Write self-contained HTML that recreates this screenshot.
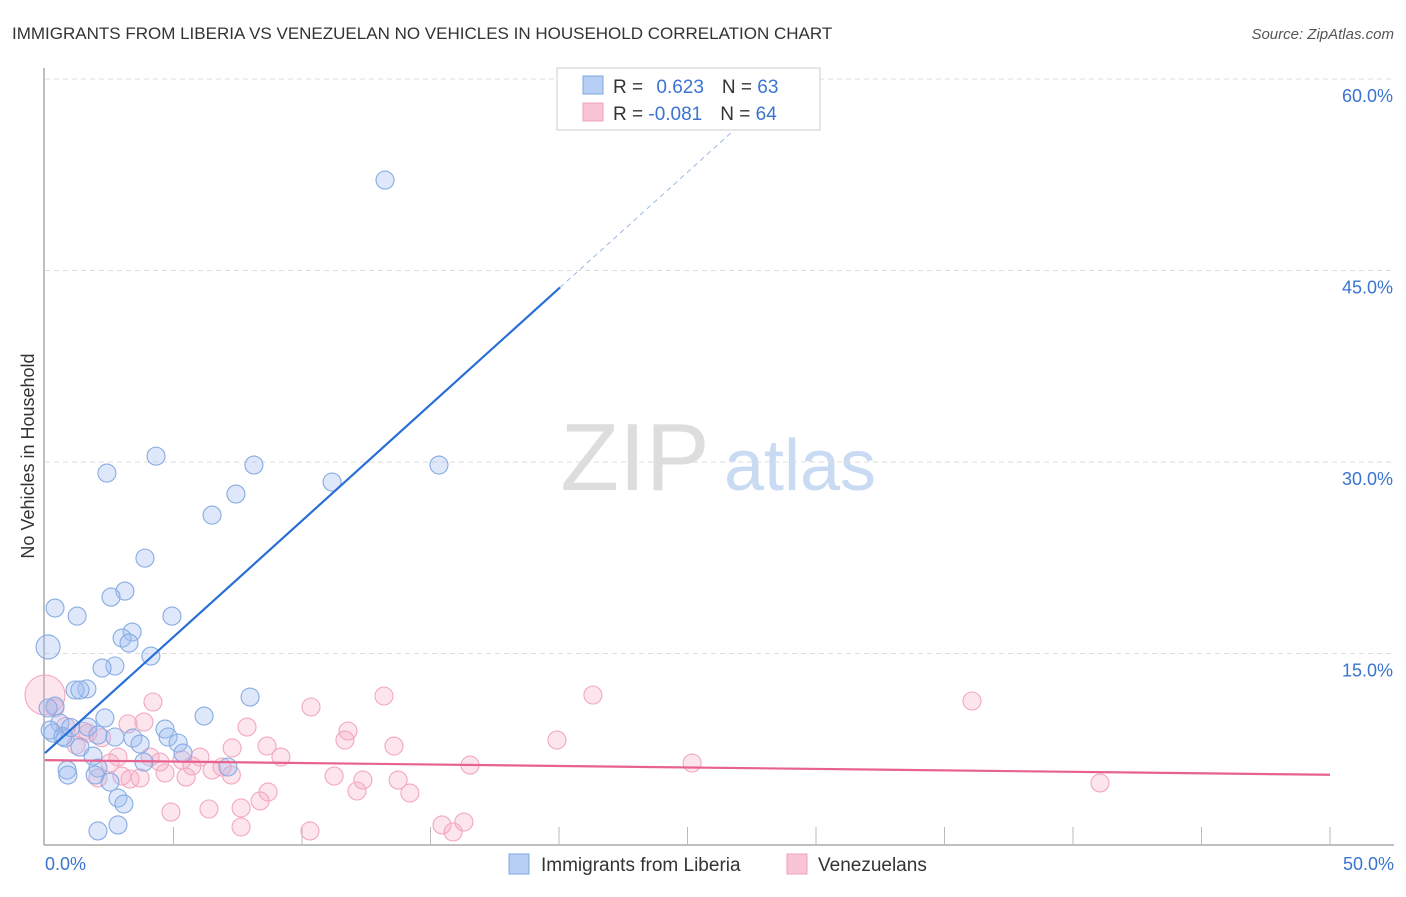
<!DOCTYPE html>
<html><head><meta charset="utf-8"><style>
body{margin:0;background:#fff;font-family:"Liberation Sans",sans-serif}
svg text{font-family:"Liberation Sans",sans-serif}
</style></head><body>
<svg id="c" width="1406" height="892" xmlns="http://www.w3.org/2000/svg">
<text x="12" y="39" font-size="17" fill="#333">IMMIGRANTS FROM LIBERIA VS VENEZUELAN NO VEHICLES IN HOUSEHOLD CORRELATION CHART</text>
<text x="1394" y="39" font-size="15" fill="#555" font-style="italic" text-anchor="end">Source: ZipAtlas.com</text>
<text x="34" y="456" font-size="18" fill="#333" text-anchor="middle" transform="rotate(-90 34 456)">No Vehicles in Household</text>
<g><text x="635" y="490" font-size="96" fill="#ddd" font-family="Liberation Serif" text-anchor="middle">ZIP</text><text x="800" y="490" font-size="72" fill="#c9daf3" text-anchor="middle">atlas</text></g>
<g id="grid"></g><g id="pts"></g><g id="lines"></g>
<g>
<rect x="557" y="68" width="263" height="62" fill="#fff" stroke="#ccc"/>
<rect x="583" y="76" width="20" height="18" fill="#b7cff5" stroke="#7fa6e0"/>
<rect x="583" y="103" width="20" height="18" fill="#f9c5d6" stroke="#f0a0bd"/>
<text x="613" y="93" font-size="19" fill="#333">R = <tspan fill="#3a74d0" dx="8">0.623</tspan><tspan dx="18" fill="#333">N = </tspan><tspan fill="#3a74d0">63</tspan></text>
<text x="613" y="120" font-size="19" fill="#333">R = <tspan fill="#3a74d0">-0.081</tspan><tspan dx="18" fill="#333">N = </tspan><tspan fill="#3a74d0">64</tspan></text>
</g>
<g>
<rect x="509" y="854" width="20" height="20" fill="#b7cff5" stroke="#7fa6e0"/>
<text x="541" y="871" font-size="19" fill="#333">Immigrants from Liberia</text>
<rect x="787" y="854" width="20" height="20" fill="#f9c5d6" stroke="#f0a0bd"/>
<text x="818" y="871" font-size="19" fill="#333">Venezuelans</text>
</g>
</svg>
<script>
const yTicks=[15,30,45,60];
const xTickLabels=["0.0%","50.0%"];
const blueX=[13.23,4.32,8.13,15.33,2.41,11.17,7.43,6.50,3.89,3.11,2.57,0.39,1.25,4.94,3.39,3.00,3.27,0.12,4.12,2.72,2.22,1.63,1.17,1.36,7.98,0.39,0.12,6.19,2.33,0.58,4.67,1.67,0.31,2.06,2.72,4.79,3.42,0.78,5.18,3.70,1.36,5.37,1.87,3.85,7.12,0.86,2.06,1.95,0.89,2.53,2.84,3.07,2.84,2.06,0.2,0.7,1.0];
const blueY=[52.08,30.46,29.76,29.76,29.13,28.43,27.49,25.84,22.47,19.89,19.42,18.56,17.93,17.93,16.68,16.21,15.82,15.51,14.80,14.02,13.86,12.22,12.14,12.14,11.59,10.88,10.73,10.10,9.95,9.55,9.08,9.24,8.77,8.61,8.46,8.46,8.38,8.38,7.99,7.91,7.67,7.20,6.97,6.50,6.11,5.87,6.03,5.48,5.48,4.93,3.68,3.21,1.57,1.10,9.0,8.5,9.2];
const pinkX=[0,21.32,13.19,36.07,4.20,10.35,0.39,7.86,3.85,3.23,11.79,1.67,11.67,19.92,13.58,8.64,7.28,1.21,2.84,6.03,9.18,4.09,5.33,4.47,2.53,16.54,25.18,5.72,6.89,6.50,4.67,7.25,11.25,2.99,5.49,2.06,3.31,3.70,12.37,13.74,41.05,12.14,8.68,14.20,8.37,7.63,6.38,4.90,7.63,10.31,15.45,16.30,15.88,0.8,1.5,2.2];
const pinkY=[11.75,11.75,11.67,11.28,11.20,10.81,10.73,9.24,9.63,9.48,8.93,8.77,8.22,8.22,7.75,7.75,7.60,7.83,6.89,6.89,6.89,6.89,6.66,6.50,6.42,6.26,6.42,6.19,6.11,5.87,5.64,5.48,5.40,5.40,5.32,5.25,5.17,5.25,5.09,5.09,4.86,4.23,4.15,4.07,3.45,2.90,2.82,2.58,1.41,1.10,1.57,1.80,1.02,9.3,8.9,8.4];
const blueBig=[17], pinkBig=[0];
const blueFit=[7.2,1.82], pinkFit=[6.65,-0.023];
const NS="http://www.w3.org/2000/svg";
const X=v=>45+v*25.7, Y=v=>845-v*12.767;
function mk(t,a,p){const e=document.createElementNS(NS,t);for(const k in a)e.setAttribute(k,a[k]);p.appendChild(e);return e;}
const g=document.getElementById('grid');
yTicks.forEach(t=>{
 const l=mk('line',{x1:45,x2:1394,y1:Y(t),y2:Y(t),stroke:'#ddd','stroke-dasharray':'5,4'},g);
 
 
 const tx=mk('text',{x:1393,y:Y(t)+23,'font-size':18,fill:'#3a74d0','text-anchor':'end'},g);tx.textContent=t.toFixed(1)+'%';
 
 
});
const ax=mk('line',{x1:44,x2:1394,y1:845,y2:845,stroke:'#aaa','stroke-width':1.5},g);


const ay=mk('line',{x1:44,x2:44,y1:68,y2:845,stroke:'#aaa','stroke-width':1.5},g);


for(let i=1;i<=10;i++){const t=mk('line',{x1:X(i*5),x2:X(i*5),y1:827,y2:845,stroke:'#bbb'},g);
 
 }
[[45,'start',0],[1394,'end',1]].forEach(([x,a,i])=>{const t=mk('text',{x:x,y:870,'font-size':18,fill:'#3a74d0','text-anchor':a},g);t.textContent=xTickLabels[i];
 
 });
const p=document.getElementById('pts');
pinkX.forEach((v,i)=>{const c=mk('circle',{cx:X(v),cy:Y(pinkY[i]),r:pinkBig.includes(i)?20:9,fill:'rgba(245,170,195,0.3)',stroke:'#f2a7c1','stroke-width':1.1},p);
 
 });
blueX.forEach((v,i)=>{const c=mk('circle',{cx:X(v),cy:Y(blueY[i]),r:blueBig.includes(i)?12:9,fill:'rgba(160,190,240,0.35)',stroke:'#86abe2','stroke-width':1.1},p);
 
 });
const L=document.getElementById('lines');
const b1=mk('line',{x1:X(0),y1:Y(blueFit[0]),x2:X(20.04),y2:Y(blueFit[0]+blueFit[1]*20.04),stroke:'#2a6fd6','stroke-width':2.2},L);


const b2=mk('line',{x1:X(20.04),y1:Y(blueFit[0]+blueFit[1]*20.04),x2:X(27.5),y2:Y(blueFit[0]+blueFit[1]*27.5),stroke:'#9bb8e6','stroke-width':1,'stroke-dasharray':'5,4'},L);


const pl=mk('line',{x1:X(0),y1:Y(pinkFit[0]),x2:X(50),y2:Y(pinkFit[0]+pinkFit[1]*50),stroke:'#e8628f','stroke-width':2.2},L);


</script>
</body></html>
